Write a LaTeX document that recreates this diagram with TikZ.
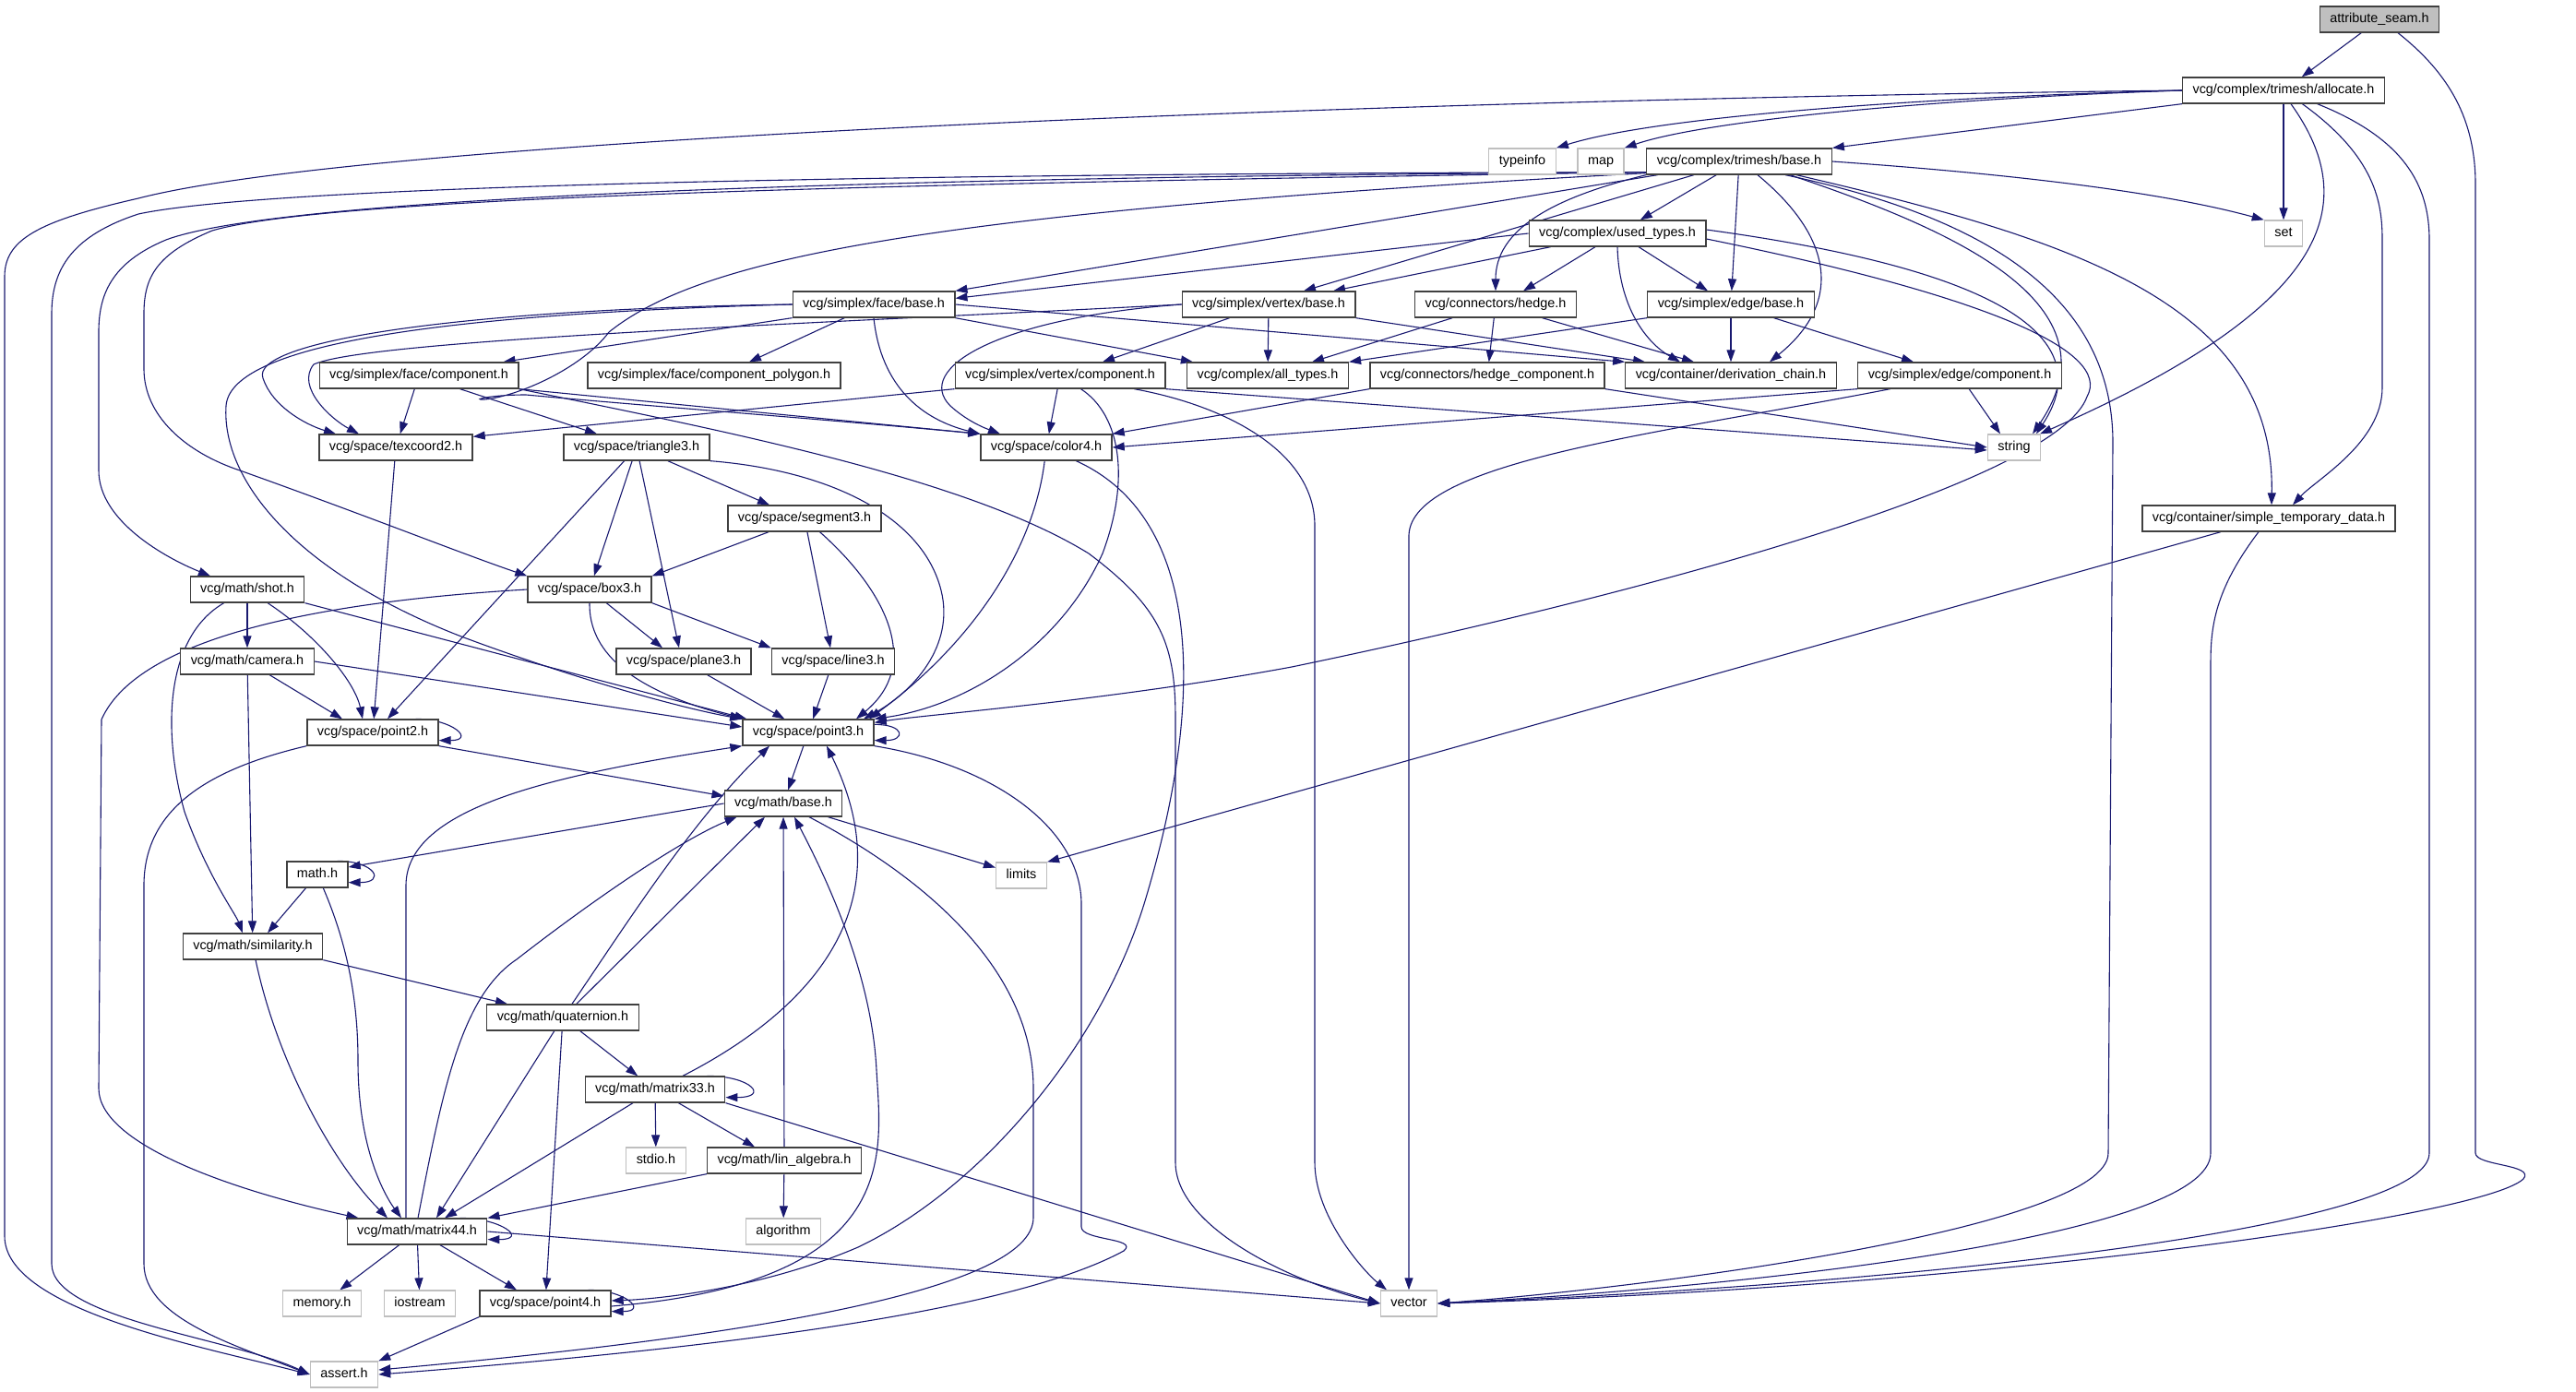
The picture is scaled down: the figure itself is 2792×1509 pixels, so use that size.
\documentclass[tikz,border=0pt]{standalone}
\usepackage{fontspec}
\setmainfont{Liberation Sans}
\usetikzlibrary{arrows.meta}
\pgfdeclarelayer{bg}
\pgfdeclarelayer{edges}
\pgfsetlayers{bg,edges,main}
\definecolor{edgec}{RGB}{25,25,112}
\definecolor{extc}{RGB}{191,191,191}
\definecolor{boxc}{RGB}{64,64,64}
\definecolor{rootc}{RGB}{191,191,191}
\newcommand{\nfont}{\fontsize{14.4pt}{16pt}\selectfont}
\begin{document}
\begin{tikzpicture}[x=1pt,y=-1pt,
  box/.style={draw=boxc, line width=1.3pt, fill=white, rectangle, minimum height=28pt,
    inner xsep=11pt, inner ysep=0pt, text height=10.5pt, text depth=3pt, font=\nfont},
  ext/.style={box, draw=extc},
  root/.style={box, fill=rootc},
  e/.style={draw=edgec, line width=1.1pt, -{Triangle[length=13pt,width=9pt]}}]
\begin{pgfonlayer}{bg}
\fill[white] (0,0) rectangle (2792,1509);
\end{pgfonlayer}
\useasboundingbox (0,0) rectangle (2792,1509);
% nodes
\node[root] (as) at (2579,21) {attribute\_seam.h};
\node[box] (al) at (2475,98) {vcg/complex/trimesh/allocate.h};
\node[ext] (ti) at (1650,175) {typeinfo};
\node[ext] (mp) at (1735,175) {map};
\node[box] (tb) at (1885,175) {vcg/complex/trimesh/base.h};
\node[ext] (st) at (2475,253) {set};
\node[box] (ut) at (1753,253) {vcg/complex/used\_types.h};
\node[box] (fb) at (947,330) {vcg/simplex/face/base.h};
\node[box] (vb) at (1375,330) {vcg/simplex/vertex/base.h};
\node[box] (hh) at (1621,330) {vcg/connectors/hedge.h};
\node[box] (eb) at (1876,330) {vcg/simplex/edge/base.h};
\node[box] (fc) at (454,407) {vcg/simplex/face/component.h};
\node[box] (fp) at (774,407) {vcg/simplex/face/component\_polygon.h};
\node[box] (vc) at (1149,407) {vcg/simplex/vertex/component.h};
\node[box] (at) at (1374,407) {vcg/complex/all\_types.h};
\node[box] (hc) at (1612,407) {vcg/connectors/hedge\_component.h};
\node[box] (dc) at (1876,407) {vcg/container/derivation\_chain.h};
\node[box] (ec) at (2124,407) {vcg/simplex/edge/component.h};
\node[box] (tc) at (429,485) {vcg/space/texcoord2.h};
\node[box] (tr) at (690,485) {vcg/space/triangle3.h};
\node[box] (c4) at (1134,485) {vcg/space/color4.h};
\node[ext] (str) at (2183,485) {string};
\node[box] (sg) at (872,562) {vcg/space/segment3.h};
\node[box] (std) at (2459,562) {vcg/container/simple\_temporary\_data.h};
\node[box] (sh) at (268,639) {vcg/math/shot.h};
\node[box] (bx) at (639,639) {vcg/space/box3.h};
\node[box] (cam) at (268,717) {vcg/math/camera.h};
\node[box] (pl) at (741,717) {vcg/space/plane3.h};
\node[box] (ln) at (903,717) {vcg/space/line3.h};
\node[box] (p2) at (404,794) {vcg/space/point2.h};
\node[box] (p3) at (876,794) {vcg/space/point3.h};
\node[box] (mb) at (849,871) {vcg/math/base.h};
\node[box] (mh) at (344,948) {math.h};
\node[ext] (lim) at (1107,949) {limits};
\node[box] (sim) at (274,1026) {vcg/math/similarity.h};
\node[box] (qu) at (610,1103) {vcg/math/quaternion.h};
\node[box] (m33) at (710,1181) {vcg/math/matrix33.h};
\node[ext] (sd) at (711,1258) {stdio.h};
\node[box] (la) at (850,1258) {vcg/math/lin\_algebra.h};
\node[ext] (alg) at (849,1335) {algorithm};
\node[box] (m44) at (452,1335) {vcg/math/matrix44.h};
\node[ext] (mem) at (349,1413) {memory.h};
\node[ext] (ios) at (455,1413) {iostream};
\node[box] (p4) at (591,1413) {vcg/space/point4.h};
\node[ext] (vec) at (1527,1413) {vector};
\node[ext] (asr) at (373,1490) {assert.h};
% edges
\begin{pgfonlayer}{edges}
% attribute_seam
\draw[e] (as) -- (al);
\draw[e] ([xshift=20pt]as.south) .. controls (2655,80) and (2683,130) .. (2683,200) -- (2683,1250) .. controls (2683,1264) and (2748,1262) .. (2735,1278) .. controls (2690,1320) and (2150,1395) .. (vec.east);
% allocate
\draw[e] (al.south west) -- (tb.north east);
\draw[e] (al.west) .. controls (2100,105) and (1800,125) .. (ti.north east);
\draw[e] (al.west) .. controls (2100,107) and (1850,130) .. (mp.north east);
\draw[e] (al.west) .. controls (1500,108) and (400,150) .. (150,215) .. controls (40,240) and (5,260) .. (5,300) -- (5,1340) .. controls (5,1420) and (220,1460) .. (asr.west);
\draw[e] (al) -- (st);
\draw[e] ([xshift=8pt]al.south) .. controls (2560,220) and (2530,330) .. ([xshift=28pt]str.north);
\draw[e] (al) .. controls (2575,170) and (2582,220) .. (2582,260) -- (2582,420) .. controls (2582,480) and (2510,520) .. ([xshift=26pt]std.north);
\draw[e] (al) .. controls (2605,150) and (2633,200) .. (2633,260) -- (2633,1250) .. controls (2633,1330) and (2100,1390) .. (vec.east);
% trimesh/base
\draw[e] (tb) -- (ut);
\draw[e] (tb) -- (fb.north east);
\draw[e] (tb) -- ([xshift=38pt]vb.north);
\draw[e] (tb.south west) .. controls (1680,215) and (1621,250) .. (hh.north);
\draw[e] (tb) -- (eb);
\draw[e] ([xshift=20pt]tb.south) .. controls (1990,260) and (1995,330) .. ([xshift=42pt]dc.north);
\draw[e] (tb.east) .. controls (2200,190) and (2350,210) .. (st.north west);
\draw[e] ([xshift=55pt]tb.south) .. controls (2120,250) and (2300,330) .. ([xshift=20pt]str.north);
\draw[e] ([xshift=50pt]tb.south) .. controls (2150,235) and (2290,320) .. (2290,480) -- (2285,1250) .. controls (2285,1330) and (1800,1395) .. (vec.east);
\draw[e] ([xshift=62pt]tb.south) .. controls (2250,260) and (2466,330) .. ([xshift=3pt]std.north);
\draw[e] ([yshift=3pt]tb.south west) .. controls (1000,188) and (300,200) .. (150,232) .. controls (80,255) and (56,290) .. (56,340) -- (56,1370) .. controls (56,1430) and (250,1450) .. (asr.west);
\draw[e] ([yshift=3pt]tb.south west) .. controls (900,192) and (300,215) .. (180,260) .. controls (120,285) and (107,320) .. (107,360) -- (107,510) .. controls (107,565) and (180,605) .. ([xshift=-40pt]sh.north);
\draw[e] ([yshift=3pt]tb.south west) .. controls (900,200) and (350,215) .. (230,250) .. controls (170,275) and (156,300) .. (156,340) -- (156,400) .. controls (156,450) and (200,490) .. (260,510) .. controls (400,560) and (500,600) .. (bx.north west);
\draw[e] ([yshift=2pt]tb.south west) .. controls (1000,230) and (760,280) .. (660,360) .. controls (630,400) and (560,430) .. (525,433) .. controls (510,434) and (530,428) .. (570,428) .. controls (700,440) and (900,455) .. (c4.north west);
% used_types
\draw[e] (ut.west) -- ([yshift=-8pt]fb.north east);
\draw[e] (ut) -- ([xshift=70pt]vb.north);
\draw[e] (ut) -- ([xshift=30pt]hh.north);
\draw[e] (ut) -- ([xshift=-25pt]eb.north);
\draw[e] (ut.south) .. controls (1755,340) and (1790,375) .. ([xshift=-55pt]dc.north);
\draw[e] ([yshift=4pt]ut.east) .. controls (2150,290) and (2280,360) .. ([xshift=24pt]str.north);
\draw[e] ([yshift=-6pt]ut.east) .. controls (2150,320) and (2290,380) .. (2262,430) .. controls (2230,520) and (1800,640) .. (1400,723) .. controls (1200,760) and (1000,775) .. ([yshift=-4pt]p3.north east);
% face/base
\draw[e] (fb.south west) -- ([xshift=-17pt]fc.north east);
\draw[e] (fb.west) .. controls (500,335) and (270,370) .. (285,410) .. controls (295,440) and (330,460) .. ([xshift=-65pt]tc.north);
\draw[e] (fb.west) .. controls (500,340) and (250,370) .. (245,440) .. controls (240,520) and (320,620) .. (500,690) .. controls (620,735) and (740,768) .. (p3.north west);
\draw[e] (fb) -- ([xshift=38pt]fp.north);
\draw[e] (fb.south) .. controls (955,420) and (1000,455) .. (c4.north west);
\draw[e] (fb.south east) -- ([xshift=7pt]at.north west);
\draw[e] (fb.east) -- (dc.north west);
% vertex/base
\draw[e] (vb) -- ([xshift=46pt]vc.north);
\draw[e] (vb) -- (at);
\draw[e] (vb.south east) -- ([xshift=22pt]dc.north west);
\draw[e] (vb.west) .. controls (1080,345) and (990,400) .. (1030,440) .. controls (1050,458) and (1070,465) .. ([xshift=-50pt]c4.north);
\draw[e] (vb.west) .. controls (900,350) and (400,368) .. (340,395) .. controls (320,420) and (360,455) .. ([xshift=-40pt]tc.north);
% hedge
\draw[e] (hh) -- ([xshift=48pt]at.north);
\draw[e] (hh) -- (hc);
\draw[e] (hh) -- ([xshift=-40pt]dc.north);
% edge/base
\draw[e] (eb.south west) -- (at.north east);
\draw[e] (eb) -- (dc);
\draw[e] (eb) -- ([xshift=-50pt]ec.north);
% face/component
\draw[e] (fc) -- (tc);
\draw[e] (fc) -- ([xshift=-43pt]tr.north);
\draw[e] (fc.south east) -- (c4.north west);
\draw[e] (fc.south east) .. controls (800,470) and (1050,520) .. (1180,600) .. controls (1260,660) and (1274,700) .. (1274,780) -- (1274,1260) .. controls (1274,1330) and (1400,1390) .. (vec.west);
% vertex/component
\draw[e] (vc.south west) -- ([yshift=-3pt]tc.north east);
\draw[e] (vc) -- (c4);
\draw[e] (vc) .. controls (1215,450) and (1225,520) .. (1195,600) .. controls (1150,700) and (1050,765) .. (p3.north east);
\draw[e] (vc) .. controls (1330,440) and (1425,490) .. (1425,570) -- (1425,1260) .. controls (1425,1320) and (1480,1380) .. ([xshift=-24pt]vec.north);
\draw[e] (vc.south east) -- ([yshift=-3pt]str.west);
% hedge_component
\draw[e] (hc.south west) -- (c4.north east);
\draw[e] (hc.south east) -- (str.west);
% edge/component
\draw[e] (ec.south west) -- (c4.east);
\draw[e] (ec) .. controls (1800,470) and (1530,500) .. (1527,580) -- (vec.north);
\draw[e] (ec) -- ([xshift=-15pt]str.north);
% texcoord2
\draw[e] (tc) -- (p2);
% triangle3
\draw[e] (tr) -- (bx);
\draw[e] (tr) -- ([xshift=-5pt]pl.north);
\draw[e] (tr) -- ([xshift=-38pt]sg.north);
\draw[e] (tr.south east) .. controls (900,510) and (1000,560) .. (1020,640) .. controls (1035,700) and (990,750) .. ([xshift=60pt]p3.north);
\draw[e] (tr) -- ([xshift=16pt]p2.north);
% segment3
\draw[e] (sg) -- (bx.north east);
\draw[e] (sg) -- (ln);
\draw[e] (sg) .. controls (960,640) and (1000,720) .. ([xshift=52pt]p3.north);
% box3
\draw[e] (bx) -- ([xshift=-23pt]pl.north);
\draw[e] (bx.south east) -- (ln.north west);
\draw[e] (bx.south) .. controls (638,710) and (690,750) .. (p3.north west);
\draw[e] (bx.west) .. controls (350,652) and (150,690) .. (110,780) -- (107,1180) .. controls (107,1240) and (250,1290) .. ([xshift=13pt]m44.north west);
% plane3, line3
\draw[e] (pl) -- (p3);
\draw[e] (ln) -- (p3);
% shot
\draw[e] (sh) -- (cam);
\draw[e] (sh) .. controls (180,690) and (175,790) .. (200,880) .. controls (225,950) and (255,990) .. ([xshift=-11pt]sim.north);
\draw[e] (sh) .. controls (345,690) and (385,740) .. ([xshift=-11pt]p2.north);
\draw[e] (sh.south east) -- ([xshift=5pt]p3.north west);
% camera
\draw[e] (cam) -- ([xshift=-33pt]p2.north);
\draw[e] (cam) -- (sim);
\draw[e] (cam.east) -- ([yshift=6pt]p3.west);
% point2
\draw[e] ([xshift=-25pt]p2.north east) to[out=0,in=0,looseness=3] ([yshift=6pt]p2.south east);
\draw[e] (p2.south east) -- ([yshift=8pt]mb.west);
\draw[e] (p2.south west) .. controls (220,835) and (156,880) .. (156,960) -- (156,1370) .. controls (156,1430) and (260,1460) .. (asr.west);
% point3
\draw[e] ([yshift=-6pt]p3.north east) to[out=0,in=0,looseness=5] ([yshift=6pt]p3.south east);
\draw[e] (p3) -- (mb);
\draw[e] (p3.south east) .. controls (1080,830) and (1172,900) .. (1172,980) -- (1172,1330) .. controls (1172,1345) and (1235,1342) .. (1218,1356) .. controls (1100,1420) and (800,1460) .. (asr.east);
% math/base
\draw[e] (mb.west) -- ([yshift=8pt]mh.east);
\draw[e] (mb) -- (lim);
\draw[e] (mb) .. controls (1000,950) and (1120,1050) .. (1120,1180) -- (1120,1320) .. controls (1120,1400) and (800,1450) .. ([yshift=5pt]asr.east);
% math.h
\draw[e] ([xshift=-12pt]mh.north east) to[out=0,in=0,looseness=4] ([yshift=6pt]mh.south east);
\draw[e] (mh) -- ([xshift=16pt]sim.north);
\draw[e] (mh) .. controls (375,1020) and (388,1080) .. (388,1150) .. controls (388,1250) and (420,1300) .. ([xshift=-17pt]m44.north);
% similarity
\draw[e] (sim.south east) -- ([xshift=-60pt]qu.north);
\draw[e] (sim) .. controls (300,1150) and (360,1260) .. ([xshift=-32pt]m44.north);
% quaternion
\draw[e] (qu) -- (m33);
\draw[e] (qu) -- ([xshift=21pt]m44.north);
\draw[e] (qu) -- (p4);
\draw[e] (qu) .. controls (680,1000) and (750,890) .. ([xshift=-42pt]p3.south);
\draw[e] (qu) -- ([xshift=-20pt]mb.south);
% matrix33
\draw[e] ([xshift=-20pt]m33.north east) to[out=0,in=0,looseness=4] ([yshift=6pt]m33.south east);
\draw[e] (m33) -- (sd);
\draw[e] (m33) -- ([xshift=-32pt]la.north);
\draw[e] (m33) -- ([xshift=30pt]m44.north);
\draw[e] (m33.south east) -- (vec.west);
\draw[e] ([xshift=30pt]m33.north) .. controls (850,1110) and (990,1000) .. ([xshift=20pt]p3.south);
% lin_algebra
\draw[e] (la) -- (mb);
\draw[e] (la) -- (alg);
\draw[e] (la.south west) -- (m44.north east);
% matrix44
\draw[e] ([xshift=-30pt]m44.north east) to[out=0,in=0,looseness=3] ([yshift=6pt]m44.south east);
\draw[e] (m44) -- (mem);
\draw[e] (m44) -- (ios);
\draw[e] (m44) -- ([xshift=-31pt]p4.north);
\draw[e] (m44.east) -- (vec.west);
\draw[e] ([xshift=1pt]m44.north) .. controls (480,1180) and (500,1080) .. (560,1040) .. controls (650,970) and (740,910) .. ([xshift=14pt]mb.south west);
\draw[e] ([xshift=-12pt]m44.north) -- (440,960) .. controls (440,875) and (600,840) .. (p3.south west);
% point4
\draw[e] ([xshift=-25pt]p4.north east) to[out=0,in=0,looseness=3] ([yshift=6pt]p4.south east);
\draw[e] ([yshift=-3pt]p4.east) .. controls (980,1390) and (955,1250) .. (950,1160) .. controls (945,1060) and (900,960) .. ([xshift=12pt]mb.south);
\draw[e] (p4.south west) -- (asr.north east);
% color4
\draw[e] (c4) .. controls (1120,600) and (1050,700) .. ([xshift=66pt]p3.north);
\draw[e] (c4) .. controls (1300,560) and (1310,750) .. (1240,980) .. controls (1190,1140) and (1060,1290) .. (930,1352) .. controls (830,1395) and (720,1408) .. ([yshift=3pt]p4.east);
% simple_temporary_data
\draw[e] (std) -- (lim.north east);
\draw[e] (std) .. controls (2400,640) and (2396,680) .. (2396,720) -- (2396,1250) .. controls (2396,1340) and (1900,1395) .. (vec.east);
\end{pgfonlayer}
\end{tikzpicture}
\end{document}
